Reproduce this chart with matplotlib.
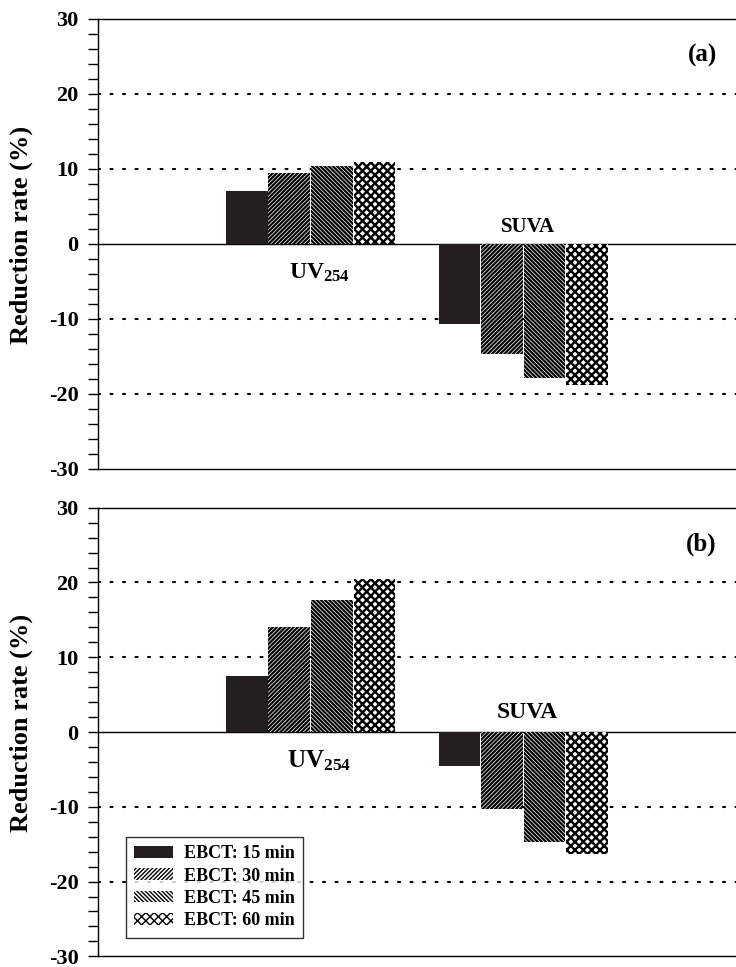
import numpy as np
import matplotlib
import matplotlib.pyplot as plt

matplotlib.use('Agg')

# data
groups = ['UV$_{254}$', 'SUVA']
series = ['EBCT: 15 min', 'EBCT: 30 min', 'EBCT: 45 min', 'EBCT: 60 min']
values_a = [[7.0, 9.5, 10.4, 10.9],
            [-10.7, -14.7, -17.9, -18.8]]
values_b = [[7.5, 14.0, 17.7, 20.5],
            [-4.5, -10.3, -14.7, -16.3]]
yticks = [-30, -20, -10, 0, 10, 20, 30]

hatches = [None, '////////', '\\\\\\\\\\\\\\\\', 'xxxx']
hatch_lw = [1.0, 1.6, 1.6, 1.7]
faces = ['#231f20', 'white', 'white', 'white']

plt.rcParams['font.family'] = ['Liberation Serif', 'DejaVu Serif']
plt.rcParams['font.weight'] = 'bold'
plt.rcParams['mathtext.fontset'] = 'custom'
plt.rcParams['mathtext.rm'] = 'Liberation Serif:bold'
plt.rcParams['mathtext.it'] = 'Liberation Serif:bold'

fig = plt.figure(figsize=(7.36, 9.67), dpi=100)
ax_a = fig.add_axes([0.133, 0.515, 0.867, 0.4654])
ax_b = fig.add_axes([0.133, 0.0110, 0.867, 0.4640])

centers = np.array([1, 2])
width = 0.2
offsets = [-0.3, -0.1, 0.1, 0.3]


def draw_panel(ax, values, tag, label_sizes, label_y, show_legend):
    vals = np.array(values)
    for j in range(len(series)):
        with plt.rc_context({'hatch.linewidth': hatch_lw[j]}):
            ax.bar(centers + offsets[j], vals[:, j], width=width * 0.98,
                   color=faces[j], edgecolor='black', linewidth=0,
                   hatch=hatches[j], label=series[j], zorder=3)
    for yv in [-20, -10, 10, 20]:
        ax.axhline(yv, color='black', linewidth=1.5, linestyle=(0, (1, 5)),
                   dash_capstyle='round', zorder=1)
    ax.axhline(0, color='black', linewidth=1.0, zorder=2)

    ax.set_xlim(0, 3)
    ax.set_ylim(-30, 30)
    ax.set_xticks([])
    ax.set_yticks(yticks)
    ax.set_yticklabels([str(t) for t in yticks], fontsize=16, fontweight='bold')
    ax.set_yticks(np.arange(-30, 31, 2), minor=True)
    ax.tick_params(axis='y', which='both', length=7, width=1, direction='out', pad=7)
    ax.spines['right'].set_visible(False)
    for s in ['left', 'top', 'bottom']:
        ax.spines[s].set_linewidth(1.0)
    ax.set_ylabel('Reduction rate (%)', fontsize=19, fontweight='bold')
    ax.yaxis.set_label_coords(-0.102, 0.52)

    ax.text(0.97, 0.918, tag, transform=ax.transAxes, ha='right', va='center',
            fontsize=18, fontweight='bold')
    # group labels
    ax.text(centers[0] + 0.04, label_y[0], groups[0], ha='center', va='center',
            fontsize=label_sizes[0], fontweight='bold')
    ax.text(centers[1] + 0.02, label_y[1], groups[1], ha='center', va='center',
            fontsize=label_sizes[1], fontweight='bold')

    if show_legend:
        leg = ax.legend(loc='lower left', bbox_to_anchor=(0.044, 0.042),
                        borderaxespad=0, fontsize=13, frameon=True, fancybox=False,
                        handlelength=2.15, handleheight=0.6,
                        borderpad=0.45, labelspacing=0.3, handletextpad=0.6)
        leg.get_frame().set_edgecolor('black')
        leg.get_frame().set_linewidth(1.0)
        for t in leg.get_texts():
            t.set_fontweight('bold')


draw_panel(ax_a, values_a, '(a)', (17, 15), (-3.8, 2.2), False)
draw_panel(ax_b, values_b, '(b)', (18, 17), (-3.8, 2.6), True)

fig.savefig('out.png', dpi=100)
